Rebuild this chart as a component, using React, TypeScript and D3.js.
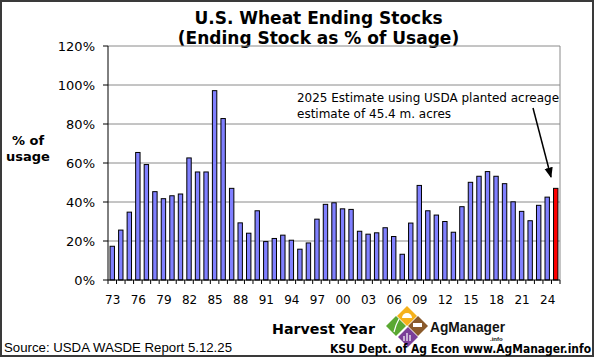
import React from "react";
import * as d3 from "d3";

const years: number[] = d3.range(1973, 2026);
const stocksPct: number[] = [
  17.3, 25.6, 34.8, 65.4, 59.2, 45.3, 41.7, 43.2, 44.1, 62.6,
  55.4, 55.4, 97.1, 82.8, 47.0, 29.3, 24.0, 35.5, 19.7, 21.3,
  23.0, 20.4, 15.8, 19.0, 31.2, 38.8, 39.6, 36.5, 36.2, 25.0,
  23.5, 24.2, 26.8, 22.3, 13.2, 29.2, 48.5, 35.5, 33.3, 30.0,
  24.5, 37.6, 50.1, 53.2, 55.6, 53.2, 49.4, 40.1, 35.2, 30.4,
  38.3, 42.5, 47.0,
];
const estimateYear = 2025;
const yTicks: number[] = [0, 20, 40, 60, 80, 100, 120];
const xTickYears: number[] = d3.range(1973, 2025, 3);

const W = 596;
const H = 357;
const L = 108, R = 560, T = 46, B = 280;

export default function App() {
  const x = d3.scaleBand<number>().domain(years).range([L, R]).paddingInner(0).paddingOuter(0);
  const y = d3.scaleLinear().domain([0, 120]).range([B, T]);
  const bw = x.bandwidth();
  const barW = 4.4;
  const font = "DejaVu Sans, Verdana, sans-serif";

  const boundaries = years.map((yr) => x(yr)!).concat([R]);

  return (
    <svg width={W} height={H} style={{ position: "absolute", left: 0, top: 0, background: "#fff" }}>
      <defs>
        <marker id="arr" viewBox="0 0 10 10" refX="9" refY="5" markerWidth="7" markerHeight="7" orient="auto-start-reverse">
          <path d="M0,1 L10,5 L0,9 z" fill="#000" />
        </marker>
      </defs>
      <rect x={0} y={0} width={W} height={H} fill="#fff" />
      <rect x={1} y={1} width={592} height={355} fill="none" stroke="#3a3a3a" strokeWidth={2} />

      {/* title */}
      <text x={318.5} y={24} textAnchor="middle" fontFamily={font} fontWeight="bold" fontSize={17} fill="#000">
        U.S. Wheat Ending Stocks
      </text>
      <text x={318.5} y={44} textAnchor="middle" fontFamily={font} fontWeight="bold" fontSize={17} fill="#000">
        (Ending Stock as % of Usage)
      </text>

      {/* gridlines */}
      {yTicks.filter((t) => t > 0).map((t) => (
        <line key={"g" + t} x1={L} x2={R} y1={y(t)} y2={y(t)} stroke="#8a8a8a" strokeWidth={1} />
      ))}
      <line x1={R} x2={R} y1={T} y2={B} stroke="#8a8a8a" strokeWidth={1} />

      {/* bars */}
      {years.map((yr, i) => (
        <rect
          key={yr}
          x={x(yr)! + bw / 2 - barW / 2}
          y={y(stocksPct[i])}
          width={barW}
          height={B - y(stocksPct[i])}
          fill={yr === estimateYear ? "#ff0000" : "#8080ff"}
          stroke="#000"
          strokeWidth={1}
        />
      ))}

      {/* axes */}
      <line x1={L} x2={L} y1={T} y2={B} stroke="#000" strokeWidth={1} />
      <line x1={L} x2={R} y1={B} y2={B} stroke="#000" strokeWidth={1} />
      {yTicks.map((t) => (
        <g key={"y" + t}>
          <line x1={L - 5} x2={L} y1={y(t)} y2={y(t)} stroke="#000" />
          <text x={95} y={y(t) + 4.5} textAnchor="end" fontFamily={font} fontSize={13} fill="#000">
            {t}%
          </text>
        </g>
      ))}
      {boundaries.map((bx, i) => (
        <line key={"xt" + i} x1={bx} x2={bx} y1={B} y2={B + 4} stroke="#000" />
      ))}
      {xTickYears.map((yr) => (
        <text key={"xl" + yr} x={x(yr)! + bw / 2 + 0.5} y={304} textAnchor="middle" fontFamily={font} fontSize={12} fill="#000">
          {String(yr % 100).padStart(2, "0")}
        </text>
      ))}

      {/* y axis title */}
      <text x={28} y={145} textAnchor="middle" fontFamily={font} fontWeight="bold" fontSize={13} fill="#000">% of</text>
      <text x={28} y={161} textAnchor="middle" fontFamily={font} fontWeight="bold" fontSize={13} fill="#000">usage</text>

      {/* annotation */}
      <text x={297} y={102} fontFamily={font} fontSize={12} fill="#000" textLength={262} lengthAdjust="spacingAndGlyphs">
        2025 Estimate using USDA planted acreage
      </text>
      <text x={297} y={118} fontFamily={font} fontSize={12} fill="#000">
        estimate of 45.4 m. acres
      </text>
      <line x1={533} y1={108} x2={551} y2={177} stroke="#000" strokeWidth={1.5} markerEnd="url(#arr)" />

      {/* x title */}
      <text x={272} y={334} fontFamily={font} fontWeight="bold" fontSize={14} fill="#000" textLength={103} lengthAdjust="spacingAndGlyphs">
        Harvest Year
      </text>

      {/* logo */}
      <g>
        <path d="M407,306 L417,316 L407,326 L397,316 Z" fill="#f5b11c" />
        <path d="M402,318 A5,5 0 0 1 412,318 Z" fill="#fff" />
        <path d="M396,316 L406,326 L396,336 L386,326 Z" fill="#5aa832" />
        <path d="M394,332 Q396,324 399,319" stroke="#fff" strokeWidth={1.2} fill="none" />
        <path d="M418,316 L428,326 L418,336 L408,326 Z" fill="#8a5a2b" />
        <rect x={413} y={323} width={9} height={4} fill="#fff" />
        <path d="M408,327 L418,337 L408,347 L398,337 Z" fill="#7b3f98" />
        <path d="M404,341 L404,336 M407,341 L407,333 M410,341 L410,335" stroke="#fff" strokeWidth={1.2} />
      </g>
      <text x={430} y={332} fontFamily="Liberation Sans, Arial, sans-serif" fontWeight="bold" fontSize={15} fill="#111" textLength={75} lengthAdjust="spacingAndGlyphs">
        AgManager
      </text>
      <text x={490} y={341} fontFamily="Liberation Sans, Arial, sans-serif" fontWeight="bold" fontSize={6} fill="#111">.info</text>

      {/* footer */}
      <text x={4} y={352} fontFamily="Liberation Sans, Arial, sans-serif" fontSize={13.5} fill="#000" textLength={228} lengthAdjust="spacingAndGlyphs">
        Source:  USDA WASDE Report 5.12.25
      </text>
      <text x={330} y={353} fontFamily="DejaVu Sans Condensed, DejaVu Sans, sans-serif" fontWeight="bold" fontSize={11.5} fill="#000" textLength={261} lengthAdjust="spacingAndGlyphs">
        KSU Dept. of Ag Econ www.AgManager.info
      </text>
    </svg>
  );
}
